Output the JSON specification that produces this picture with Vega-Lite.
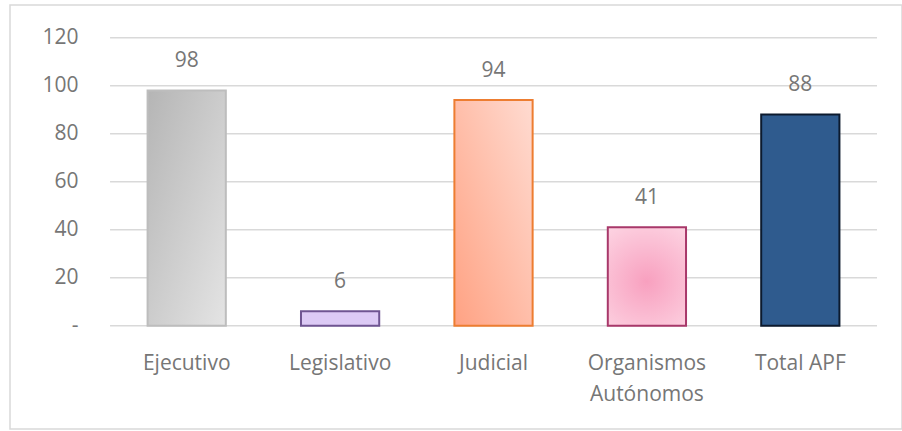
{
  "$schema": "https://vega.github.io/schema/vega-lite/v6.json",
  "autosize": "none",
  "width": 892,
  "height": 424,
  "padding": {"left": 10, "top": 5, "right": 0, "bottom": 2},
  "background": "#ffffff",
  "config": {
    "view": {"stroke": "#d9d9d9", "strokeWidth": 1.5},
    "font": "Open Sans"
  },
  "datasets": {
    "bars": [
      {"cat": "Ejecutivo", "v": 98},
      {"cat": "Legislativo", "v": 6},
      {"cat": "Judicial", "v": 94},
      {"cat": "Organismos Autónomos", "v": 41},
      {"cat": "Total APF", "v": 88}
    ],
    "grid": [
      {"g": 0}, {"g": 20}, {"g": 40}, {"g": 60}, {"g": 80}, {"g": 100}, {"g": 120}
    ]
  },
  "layer": [
    {
      "data": {"name": "grid"},
      "mark": {"type": "rule", "color": "#d9d9d9", "strokeWidth": 1.5},
      "encoding": {
        "y": {"field": "g", "type": "quantitative"},
        "x": {"datum": "Ejecutivo", "type": "nominal", "bandPosition": -0.48},
        "x2": {"datum": "Total APF", "bandPosition": 1.48}
      }
    },
    {
      "data": {"name": "bars"},
      "mark": {"type": "bar", "strokeWidth": 2},
      "encoding": {
        "x": {
          "field": "cat",
          "type": "nominal",
          "sort": null,
          "scale": {
            "domain": ["Ejecutivo", "Legislativo", "Judicial", "Organismos Autónomos", "Total APF"],
            "paddingInner": 0.49, "paddingOuter": 0.6524, "align": 0.6874
          },
          "axis": {
            "title": null,
            "orient": "bottom",
            "offset": -103.3,
            "bandPosition": 0.5,
            "domain": false,
            "ticks": false,
            "labelAngle": 0,
            "labelAlign": "center",
            "labelPadding": 38,
            "labelFontSize": 21,
            "labelColor": "#767676",
            "labelLineHeight": 31,
            "labelExpr": "datum.label == 'Organismos Autónomos' ? ['Organismos', 'Autónomos'] : datum.label"
          }
        },
        "y": {
          "field": "v",
          "type": "quantitative",
          "scale": {"domain": [-43, 133.6], "nice": false, "zero": false},
          "axis": {
            "title": null,
            "orient": "left",
            "offset": -100,
            "domain": false,
            "ticks": false,
            "grid": false,
            "values": [0, 20, 40, 60, 80, 100, 120],
            "labelPadding": 32,
            "labelFontSize": 21,
            "labelColor": "#767676",
            "labelExpr": "datum.value === 0 ? '-' : datum.label"
          }
        },
        "y2": {"datum": 0},
        "fill": {
          "condition": [
            {"test": "datum.cat === 'Ejecutivo'", "value": {"gradient": "linear", "x1": 0, "y1": 0, "x2": 1, "y2": 1, "stops": [{"offset": 0, "color": "#b5b5b5"}, {"offset": 1, "color": "#e4e4e4"}]}},
            {"test": "datum.cat === 'Legislativo'", "value": "#dccaf5"},
            {"test": "datum.cat === 'Judicial'", "value": {"gradient": "linear", "x1": 0, "y1": 1, "x2": 1, "y2": 0, "stops": [{"offset": 0, "color": "#ffa283"}, {"offset": 1, "color": "#ffdbd1"}]}},
            {"test": "datum.cat === 'Organismos Autónomos'", "value": {"gradient": "radial", "x1": 0.5, "y1": 0.55, "r1": 0, "x2": 0.5, "y2": 0.55, "r2": 0.7, "stops": [{"offset": 0, "color": "#f8a0bf"}, {"offset": 1, "color": "#fdd6e4"}]}}
          ],
          "value": "#2f5b8e"
        },
        "stroke": {
          "condition": [
            {"test": "datum.cat === 'Ejecutivo'", "value": "#bdbdbd"},
            {"test": "datum.cat === 'Legislativo'", "value": "#6f5592"},
            {"test": "datum.cat === 'Judicial'", "value": "#ed7d31"},
            {"test": "datum.cat === 'Organismos Autónomos'", "value": "#a8386a"}
          ],
          "value": "#0c1a2e"
        }
      }
    },
    {
      "data": {"name": "bars"},
      "mark": {"type": "text", "baseline": "middle", "dy": -29, "fontSize": 21, "color": "#767676"},
      "encoding": {
        "x": {"field": "cat", "type": "nominal", "sort": null},
        "y": {"field": "v", "type": "quantitative"},
        "text": {"field": "v", "type": "quantitative"}
      }
    }
  ]
}
